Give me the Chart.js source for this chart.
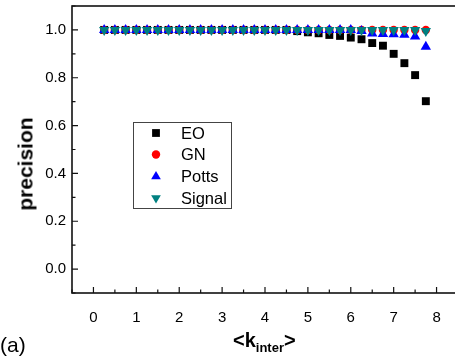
<!DOCTYPE html>
<html>
<head>
<meta charset="utf-8">
<script src="https://cdn.jsdelivr.net/npm/chart.js@4.4.0/dist/chart.umd.min.js"></script>
<style>
  html, body { margin: 0; padding: 0; background: #fff; overflow: hidden; }
  #wrap { position: relative; width: 470px; height: 358px; }
  canvas { position: absolute; left: 0; top: 0; }
  .xt { position: absolute; font-family: "Liberation Sans", Arial, sans-serif; font-weight: bold; font-size: 20px; color: #000; white-space: nowrap; }
  .xt sub { font-size: 13px; vertical-align: -5px; }
  .yt { position: absolute; left: 25px; top: 164px; transform: translate(-50%, -50%) rotate(-90deg); font-family: "Liberation Sans", Arial, sans-serif; font-weight: bold; font-size: 21px; line-height: 21px; color: #000; white-space: nowrap; }
  .lab { position: absolute; font-family: "Liberation Sans", Arial, sans-serif; font-size: 21px; color: #000; }
</style>
</head>
<body>
<div id="wrap">
  <canvas id="c" width="470" height="358"></canvas>
  <div class="yt">precision</div>
  <div class="xt" style="left:233px; top:329px;">&lt;k<sub>inter</sub>&gt;</div>
  <div class="lab" style="left:0px; top:333px;">(a)</div>
</div>
<script>
// ---- data ----
const kInter = [0.25, 0.5, 0.75, 1.0, 1.25, 1.5, 1.75, 2.0, 2.25, 2.5, 2.75, 3.0, 3.25, 3.5, 3.75, 4.0,
                4.25, 4.5, 4.75, 5.0, 5.25, 5.5, 5.75, 6.0, 6.25, 6.5, 6.75, 7.0, 7.25, 7.5, 7.75];
const eoValues = [1.0, 1.0, 1.0, 1.0, 1.0, 1.0, 1.0, 1.0, 1.0, 1.0, 1.0, 1.0, 1.0, 1.0, 1.0, 1.0,
                  1.0, 1.0, 0.995, 0.99, 0.986, 0.979, 0.975, 0.968, 0.961, 0.945, 0.934, 0.90, 0.861, 0.811, 0.702];
const gnValues = [1.0, 1.0, 1.0, 1.0, 1.0, 1.0, 1.0, 1.0, 1.0, 1.0, 1.0, 1.0, 1.0, 1.0, 1.0, 1.0,
                  1.0, 1.0, 1.0, 1.0, 1.0, 1.0, 1.0, 1.0, 1.0, 1.0, 1.0, 1.0, 1.0, 1.0, 1.0];
const pottsValues = [1.0, 1.0, 1.0, 1.0, 1.0, 1.0, 1.0, 1.0, 1.0, 1.0, 1.0, 1.0, 1.0, 1.0, 1.0, 1.0,
                     1.0, 1.0, 1.0, 1.0, 1.0, 1.0, 1.0, 1.0, 0.995, 0.985, 0.983, 0.982, 0.98, 0.972, 0.93];
const signalValues = [1.0, 1.0, 1.0, 1.0, 1.0, 1.0, 1.0, 1.0, 1.0, 1.0, 1.0, 1.0, 1.0, 1.0, 1.0, 1.0,
                      1.0, 1.0, 1.0, 1.0, 1.0, 1.0, 1.0, 1.0, 1.0, 1.0, 1.0, 1.0, 1.0, 1.0, 0.995];
const seriesNames = ["EO", "GN", "Potts", "Signal"];
const xTickValues = [0, 1, 2, 3, 4, 5, 6, 7, 8];
const xMinorValues = [-0.5, 0.5, 1.5, 2.5, 3.5, 4.5, 5.5, 6.5, 7.5, 8.5];
const yTickValues = [0.0, 0.2, 0.4, 0.6, 0.8, 1.0];
const yMinorValues = [-0.1, 0.1, 0.3, 0.5, 0.7, 0.9, 1.1];

const FONT = '"Liberation Sans", Arial, sans-serif';
const styles = [
  { color: '#000000', point: 'rect', radius: 5.6, rotation: 0 },
  { color: '#ff0000', point: 'circle', radius: 4.2, rotation: 0 },
  { color: '#0000ff', point: 'triangle', radius: 6, rotation: 0 },
  { color: '#008080', point: 'triangle', radius: 6, rotation: 180 }
];
const allValues = [eoValues, gnValues, pottsValues, signalValues];

const datasets = allValues.map((vals, i) => ({
  label: seriesNames[i],
  data: kInter.map((x, j) => ({ x: x, y: vals[j] })),
  showLine: false,
  pointStyle: styles[i].point,
  pointRadius: styles[i].radius,
  pointRotation: styles[i].rotation,
  pointBackgroundColor: styles[i].color,
  pointBorderColor: styles[i].color,
  pointBorderWidth: 0,
  order: 4 - i
}));

const framePlugin = {
  id: 'frame',
  afterDraw(chart) {
    const ctx = chart.ctx, a = chart.chartArea;
    const xs = chart.scales.x, ys = chart.scales.y;
    ctx.save();
    ctx.strokeStyle = '#111';
    ctx.lineWidth = 1.6;
    ctx.strokeRect(a.left, a.top, a.right - a.left, a.bottom - a.top);
    ctx.lineWidth = 1.2;
    ctx.beginPath();
    xTickValues.forEach(v => { const p = xs.getPixelForValue(v); ctx.moveTo(p, a.bottom); ctx.lineTo(p, a.bottom - 6); });
    xMinorValues.forEach(v => { const p = xs.getPixelForValue(v); ctx.moveTo(p, a.bottom); ctx.lineTo(p, a.bottom - 3.5); });
    yTickValues.forEach(v => { const p = ys.getPixelForValue(v); ctx.moveTo(a.left, p); ctx.lineTo(a.left + 6, p); });
    yMinorValues.forEach(v => { const p = ys.getPixelForValue(v); ctx.moveTo(a.left, p); ctx.lineTo(a.left + 3.5, p); });
    ctx.stroke();

    // legend box
    const bx = 133, by = 122, bw = 98, bh = 86;
    ctx.strokeStyle = '#444';
    ctx.lineWidth = 1;
    ctx.fillStyle = '#fff';
    ctx.fillRect(bx, by, bw, bh);
    ctx.strokeRect(bx + 0.5, by + 0.5, bw, bh);
    const rows = [133, 154.5, 176.5, 198];
    const lr = [3.9, 4.2, 5.6, 5.6];
    seriesNames.forEach((name, i) => {
      ctx.fillStyle = styles[i].color;
      ctx.strokeStyle = styles[i].color;
      Chart.helpers.drawPoint(ctx, { pointStyle: styles[i].point, radius: lr[i] * (i === 0 ? 1.414 : 1), rotation: styles[i].rotation, borderWidth: 0 }, 156, rows[i]);
      ctx.fillStyle = '#000';
      ctx.font = '16.5px ' + FONT;
      ctx.textBaseline = 'middle';
      ctx.textAlign = 'left';
      ctx.fillText(name, 181, rows[i] + 1);
    });
    ctx.restore();
  }
};

new Chart(document.getElementById('c'), {
  type: 'scatter',
  data: { datasets: datasets },
  options: {
    responsive: false,
    animation: false,
    layout: { padding: { top: 6, right: 12, bottom: 25, left: 0 } },
    plugins: { legend: { display: false }, tooltip: { enabled: false } },
    scales: {
      x: {
        type: 'linear', min: -0.5, max: 8.5,
        afterBuildTicks: s => { s.ticks = xTickValues.map(v => ({ value: v })); },
        afterFit: s => { s.height = 40; s.paddingLeft = 0; s.paddingRight = 0; },
        grid: { display: false, drawTicks: false },
        border: { display: false },
        ticks: { color: '#000', font: { family: FONT, size: 15 }, padding: 16, callback: v => String(v) }
      },
      y: {
        type: 'linear', min: -0.1, max: 1.1,
        afterBuildTicks: s => { s.ticks = yTickValues.map(v => ({ value: v })); },
        afterFit: s => { s.width = 72; s.paddingTop = 0; s.paddingBottom = 0; },
        grid: { display: false, drawTicks: false },
        border: { display: false },
        ticks: { color: '#000', font: { family: FONT, size: 15 }, padding: 6, callback: v => v.toFixed(1) }
      }
    }
  },
  plugins: [framePlugin]
});
</script>
</body>
</html>
